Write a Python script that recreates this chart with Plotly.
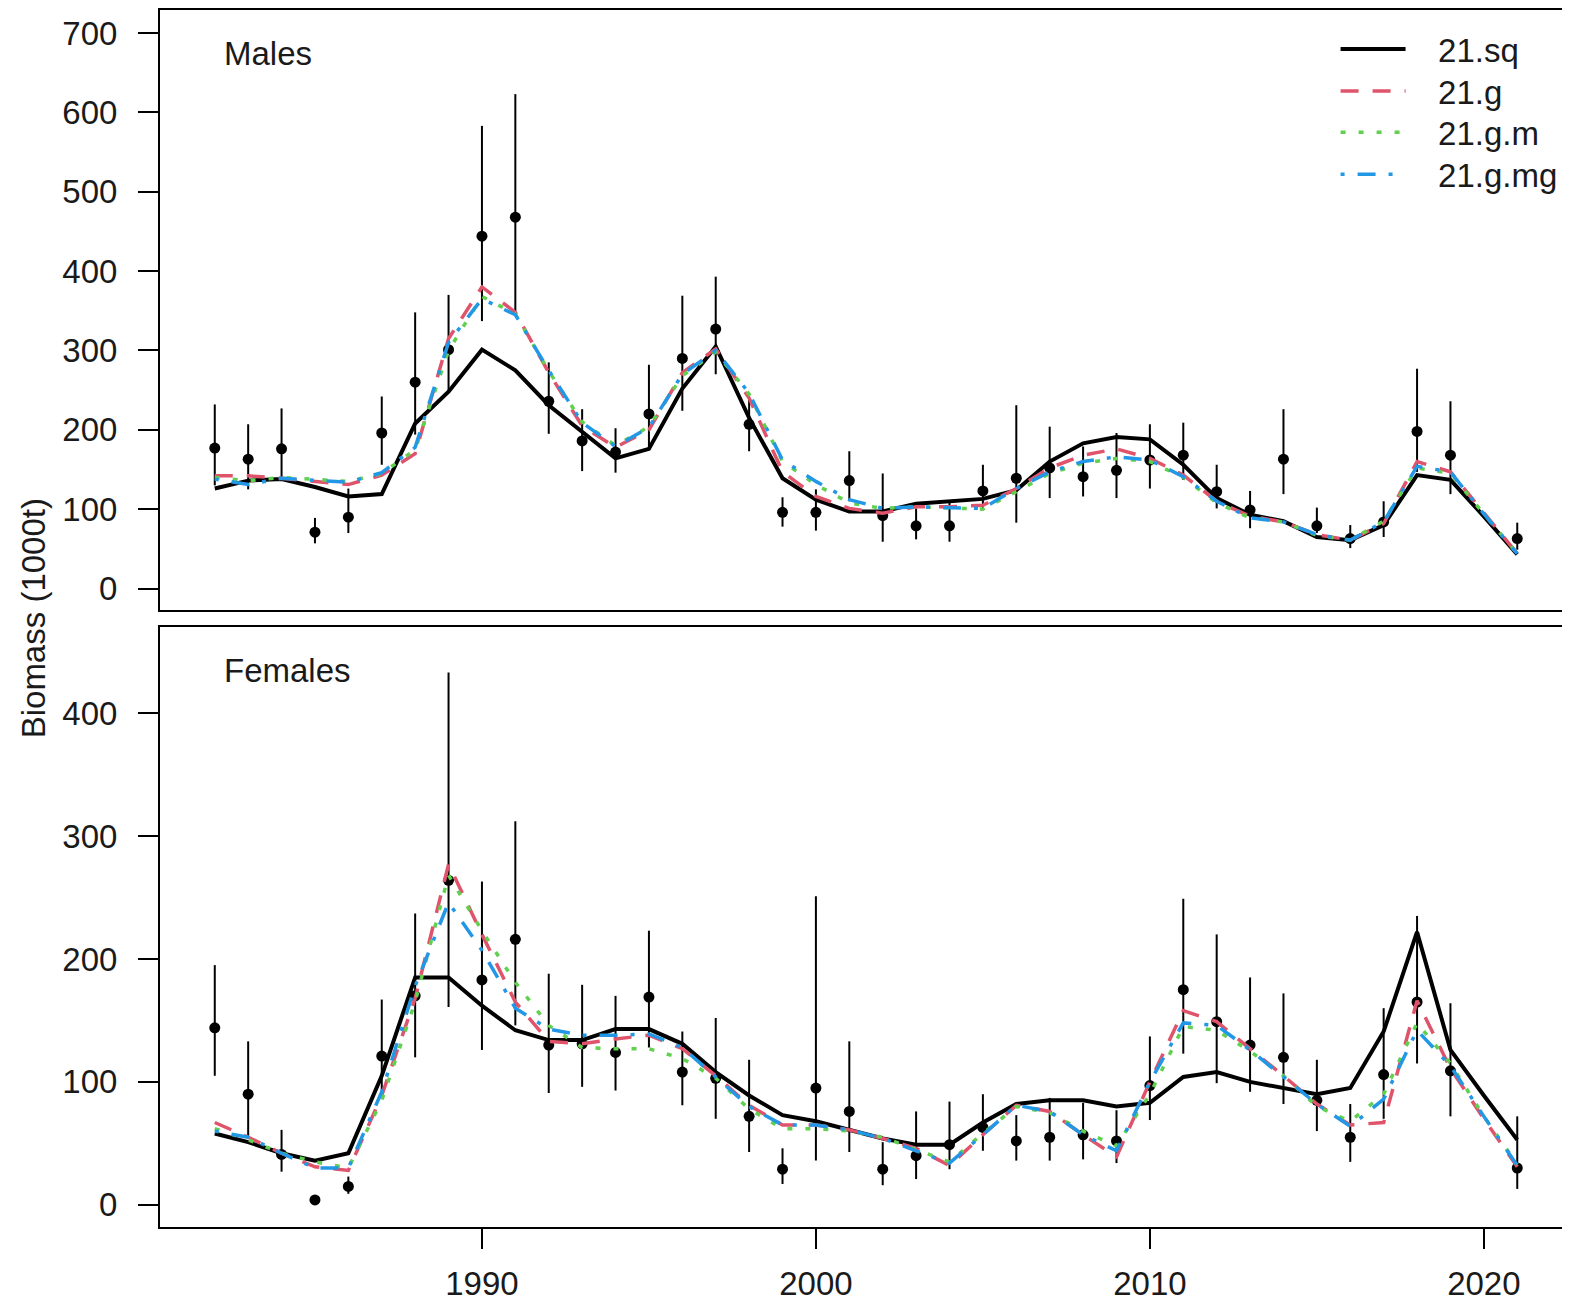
import plotly.graph_objects as go
from plotly.subplots import make_subplots

# colours of the R default palette
COLS = {'21.sq': '#000000', '21.g': '#DF536B', '21.g.m': '#61D04F', '21.g.mg': '#2297E6'}
DASH = {'21.sq': 'solid', '21.g': '18px,14px', '21.g.m': '5px,13px', '21.g.mg': '4px,13px,18px,13px'}
WIDTH = {'21.sq': 4, '21.g': 3.5, '21.g.m': 3.5, '21.g.mg': 3.5}

years = list(range(1982, 2022))
obs_years = [y for y in years if y != 2020]

# survey biomass (1000t), males
m_obs = [177, 163, 176, 71, 90, 196, 260, 301, 444, 468, 236, 186, 172, 220, 290, 327, 207,
         96, 96, 136, 92, 79, 79, 123, 139, 152, 141, 149, 162, 168, 122, 99, 163, 79, 63,
         84, 198, 168, 63]
m_lo = [130, 125, 138, 57, 70, 156, 194, 248, 337, 349, 195, 148, 146, 177, 224, 270, 173,
        78, 73, 110, 59, 62, 59, 101, 83, 114, 116, 114, 126, 137, 101, 76, 119, 70, 51,
        65, 147, 119, 49]
m_hi = [232, 207, 227, 89, 126, 242, 348, 370, 583, 623, 285, 226, 202, 282, 369, 393, 238,
        115, 125, 173, 145, 101, 110, 156, 231, 204, 179, 196, 207, 209, 156, 123, 226, 102, 80,
        110, 277, 236, 83]

# survey biomass (1000t), females
f_obs = [144, 90, 41, 4, 15, 121, 170, 264, 183, 216, 130, 131, 124, 169, 108, 103, 72,
         29, 95, 76, 29, 40, 49, 63, 52, 55, 57, 52, 97, 175, 149, 130, 120, 85, 55,
         106, 165, 109, 30]
f_lo = [105, 54, 27, 4, 9, 89, 120, 161, 126, 146, 91, 96, 93, 128, 81, 70, 43,
        17, 36, 43, 16, 21, 29, 44, 36, 36, 37, 34, 69, 123, 99, 92, 82, 60, 35,
        70, 115, 72, 13]
f_hi = [195, 133, 61, 4, 23, 167, 237, 433, 263, 312, 188, 179, 170, 223, 141, 152, 118,
        46, 251, 133, 51, 76, 84, 90, 73, 87, 83, 77, 137, 249, 220, 185, 172, 118, 82,
        160, 235, 164, 72]

# model fits, males
m_fit = {
    '21.sq': [126, 136, 138, 128, 116, 119, 208, 248, 301, 275, 231, 198, 164, 176, 252, 305, 215,
              139, 112, 97, 97, 107, 110, 113, 124, 160, 183, 191, 188, 156, 114, 93, 85, 65, 61,
              80, 143, 137, 91, 43],
    '21.g': [142, 142, 139, 135, 131, 143, 170, 315, 380, 348, 272, 205, 178, 200, 272, 302, 240,
             147, 116, 101, 95, 103, 103, 105, 126, 152, 168, 176, 164, 143, 110, 91, 84, 68, 61,
             82, 160, 147, 95, 44],
    '21.g.m': [140, 136, 140, 138, 135, 145, 175, 300, 368, 346, 274, 210, 180, 204, 268, 298, 245,
               160, 131, 108, 101, 103, 102, 100, 122, 145, 158, 164, 160, 140, 108, 89, 84, 67, 61,
               85, 152, 145, 94, 44],
    '21.g.mg': [138, 131, 139, 137, 134, 146, 178, 310, 365, 345, 275, 209, 179, 203, 270, 300, 246,
                162, 135, 112, 101, 103, 102, 101, 126, 147, 160, 166, 162, 141, 110, 89, 84, 68, 61,
                84, 154, 147, 94, 44],
}

# model fits, females
f_fit = {
    '21.sq': [58, 51, 42, 36, 42, 105, 185, 185, 162, 142, 134, 134, 143, 143, 131, 108, 89,
              73, 68, 61, 54, 49, 49, 67, 82, 85, 85, 80, 83, 104, 108, 100, 95, 90, 95,
              141, 222, 126, 89, 53],
    '21.g': [67, 55, 42, 31, 28, 89, 168, 277, 220, 165, 133, 131, 135, 138, 127, 105, 81,
             65, 65, 61, 54, 46, 32, 57, 81, 76, 57, 39, 100, 158, 149, 127, 105, 82, 65,
             67, 166, 111, 70, 31],
    '21.g.m': [62, 53, 42, 35, 30, 85, 165, 268, 223, 181, 146, 128, 127, 127, 119, 103, 78,
               62, 62, 60, 55, 45, 35, 58, 80, 75, 60, 48, 90, 145, 142, 125, 105, 80, 68,
               90, 148, 115, 72, 33],
    '21.g.mg': [60, 55, 42, 30, 30, 92, 178, 246, 207, 160, 143, 138, 138, 139, 128, 104, 80,
                65, 65, 61, 54, 44, 34, 57, 81, 76, 57, 44, 100, 148, 146, 126, 104, 82, 64,
                86, 142, 113, 72, 32],
}

FONT = 'Liberation Sans, Arial, sans-serif'
FS = 33
TXT = '#1a1a1a'
NBSP = '\u00a0'

# one legend per model so the rows can sit as tightly as in the original
LEG_IDS = ['legend', 'legend2', 'legend3', 'legend4']
LEG_Y = [0.968, 0.9335, 0.8995, 0.865]

fig = make_subplots(rows=2, cols=1, shared_xaxes=True, vertical_spacing=0.014)

panels = [(1, m_obs, m_lo, m_hi, m_fit), (2, f_obs, f_lo, f_hi, f_fit)]
for row, obs, lo, hi, fit in panels:
    fig.add_trace(go.Scatter(
        x=obs_years, y=obs, mode='markers',
        marker=dict(color='black', size=11),
        error_y=dict(type='data', symmetric=False,
                     array=[h - o for h, o in zip(hi, obs)],
                     arrayminus=[o - l for o, l in zip(obs, lo)],
                     color='black', thickness=2, width=0),
        showlegend=False, hoverinfo='skip'), row=row, col=1)
    for i, (name, vals) in enumerate(fit.items()):
        fig.add_trace(go.Scatter(
            x=years, y=vals, mode='lines', name=NBSP * 3 + name,
            line=dict(color=COLS[name], dash=DASH[name], width=WIDTH[name]),
            legend=LEG_IDS[i], showlegend=(row == 1)), row=row, col=1)

axis_style = dict(showline=True, linecolor='black', linewidth=2, showgrid=False,
                  zeroline=False, ticks='outside', ticklen=20, tickwidth=2, tickcolor='black',
                  automargin=False, tickfont=dict(family=FONT, size=FS, color=TXT))

fig.update_xaxes(range=[1980.36, 2022.34], mirror=True, tickvals=[1990, 2000, 2010, 2020],
                 ticklabelstandoff=6, **axis_style)
fig.update_xaxes(ticks='', showticklabels=False, row=1, col=1)
fig.update_yaxes(mirror=False, ticklabelstandoff=14, **axis_style)
fig.update_yaxes(range=[-27, 729], tickvals=[0, 100, 200, 300, 400, 500, 600, 700],
                 domain=[0.507, 1.0], row=1, col=1)
fig.update_yaxes(range=[-18, 470], tickvals=[0, 100, 200, 300, 400],
                 domain=[0.0, 0.493], row=2, col=1)

fig.add_annotation(text='Males', xref='x domain', yref='y domain', x=0.044, y=0.927,
                   xanchor='left', yanchor='middle', showarrow=False,
                   font=dict(family=FONT, size=FS, color=TXT))
fig.add_annotation(text='Females', xref='x2 domain', yref='y2 domain', x=0.044, y=0.928,
                   xanchor='left', yanchor='middle', showarrow=False,
                   font=dict(family=FONT, size=FS, color=TXT))
fig.add_annotation(text='Biomass (1000t)', xref='paper', yref='paper', x=-0.09, y=0.5,
                   textangle=-90, showarrow=False, xanchor='center', yanchor='middle',
                   font=dict(family=FONT, size=FS, color=TXT))

leg_style = dict(x=0.8385, xanchor='left', yanchor='middle', bgcolor='rgba(0,0,0,0)',
                 font=dict(family=FONT, size=FS, color=TXT), itemwidth=65)

# page body adds an 8px margin, so keep the figure inside the window
fig.update_layout(
    width=1554, height=1294,
    margin=dict(l=152, r=0, t=2, b=75, autoexpand=False),
    paper_bgcolor='white', plot_bgcolor='white',
    **{lid: dict(y=ly, **leg_style) for lid, ly in zip(LEG_IDS, LEG_Y)},
)

fig.write_html("out.html")
